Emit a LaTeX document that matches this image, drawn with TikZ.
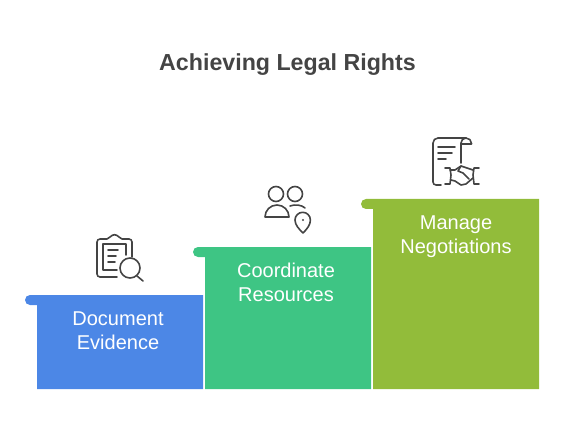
\documentclass[tikz,border=0pt]{standalone}
\usepackage{fontspec}
\setmainfont{Liberation Sans}
\usepackage{xcolor}
\usetikzlibrary{positioning}
\definecolor{stepblue}{HTML}{4C87E6}
\definecolor{stepgreen}{HTML}{3EC584}
\definecolor{stepolive}{HTML}{92BC3A}
\definecolor{inkgrey}{HTML}{444444}
\tikzset{
    steplabel/.style={text=white, font=\fontsize{20}{24}\selectfont, align=center, inner sep=0pt},
    icon/.style={draw=inkgrey, line width=1.6pt, line cap=round, line join=round}
}
\begin{document}
\begin{tikzpicture}[x=1pt, y=-1pt]
        \useasboundingbox (0,0) rectangle (564,438);

        \node[font=\fontsize{23.2}{28}\selectfont\bfseries, text=inkgrey] (title) at (287.5,65) {Achieving Legal Rights};

        % steps, each with its small rounded lip on the left
        \fill[stepblue] (30,295) -- (203,295) -- (203,389) -- (37,389) -- (37,305) -- (30,305)
            arc[start angle=90, end angle=270, radius=5] -- cycle;
        \fill[stepgreen] (198,247) -- (371,247) -- (371,389) -- (205,389) -- (205,257) -- (198,257)
            arc[start angle=90, end angle=270, radius=5] -- cycle;
        \fill[stepolive] (366,199) -- (539,199) -- (539,389) -- (373,389) -- (373,209) -- (366,209)
            arc[start angle=90, end angle=270, radius=5] -- cycle;

        \node[steplabel] (document) at (118,331) {Document\\Evidence};
        \node[steplabel] (coordinate) at (286,282.5) {Coordinate\\Resources};
        \node[steplabel] (manage) at (456,236.5) {Manage\\Negotiations};

        % clipboard
        \draw[icon] (117,277) -- (100,277) arc[start angle=90, end angle=180, radius=3] -- (97,242)
            arc[start angle=180, end angle=270, radius=3] -- (107,239) -- (110,237)
            .. controls (113,234) and (116,234) .. (119,237) -- (122,239) -- (129,239)
            arc[start angle=270, end angle=360, radius=3] -- (132,257);
        \draw[icon] (117,270) -- (103,270) -- (103,244) -- (126,244) -- (126,255);
        \draw[icon] (108,250) -- (118,250);
        \draw[icon] (108,256) -- (116,256);
        \draw[icon] (108,262) -- (115,262);
        \draw[icon] (130,268) circle[radius=10];
        \draw[icon] (137,276) -- (143,281);

        % people and pin
        \draw[icon] (276,194) circle[radius=7.5];
        \draw[icon] (295,194) circle[radius=7.5];
        \draw[icon] (265,217) arc[start angle=180, end angle=360, radius=12] -- cycle;
        \draw[icon] (290,206) .. controls (295,204) and (302,205) .. (305,208);
        \draw[icon] (303,233) .. controls (299,229) and (295,225) .. (295,220)
            arc[start angle=180, end angle=360, radius=7.7]
            .. controls (310.4,225) and (307,229) .. (303,233);
        \fill[inkgrey] (303,220) circle[radius=1.2];

        % scroll and handshake
        \draw[icon] (441,185) -- (436,185) arc[start angle=90, end angle=180, radius=3] -- (433,143)
            arc[start angle=180, end angle=270, radius=5] -- (466,138)
            arc[start angle=270, end angle=360, radius=5.5] -- (471.5,144) -- (461,144);
        \draw[icon] (461,163) -- (461,143) arc[start angle=180, end angle=270, radius=5];
        \draw[icon] (438,147) -- (455,147);
        \draw[icon] (438,153) -- (452,153);
        \draw[icon] (438,159) -- (446,159);
        \draw[icon] (445,168) -- (450,168) -- (451,175) -- (450,184) -- (445,184);
        \draw[icon] (479,168) -- (474,168) -- (473,175) -- (474,184) -- (479,184);
        \draw[icon] (450,170) -- (455,170) -- (461,166) -- (467,168) -- (473,170);
        \draw[icon] (451,180) -- (455,181) -- (461,185) -- (466,184) -- (473,178);
        \draw[icon] (461,166) -- (458,171) -- (463,173) -- (469,179);
\end{tikzpicture}
\end{document}
